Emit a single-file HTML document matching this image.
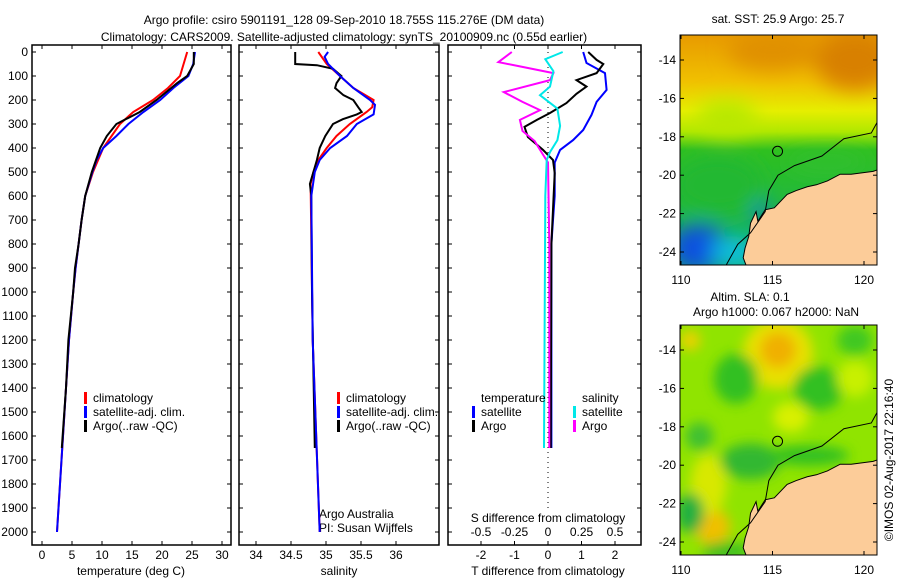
<!DOCTYPE html>
<html><head><meta charset="utf-8"><style>
body{margin:0;background:#fff;}
svg text{font-family:"Liberation Sans",sans-serif;font-size:12px;fill:#000;}
</style></head><body>
<svg id="c" width="900" height="580" viewBox="0 0 900 580" xmlns="http://www.w3.org/2000/svg">
<defs>
<filter id="bl" x="-50%" y="-50%" width="200%" height="200%"><feGaussianBlur stdDeviation="10"/></filter>
<filter id="bl2" x="-50%" y="-50%" width="200%" height="200%"><feGaussianBlur stdDeviation="6"/></filter>
<clipPath id="m1"><rect x="680" y="35" width="197" height="230"/></clipPath>
<clipPath id="m2"><rect x="680" y="325" width="197" height="230"/></clipPath>
<linearGradient id="sst" x1="0" y1="0" x2="0" y2="1">
<stop offset="0" stop-color="#e89a00"/><stop offset="0.2" stop-color="#f0c000"/><stop offset="0.33" stop-color="#e6ee00"/><stop offset="0.42" stop-color="#b0e800"/><stop offset="0.5" stop-color="#30c020"/><stop offset="1" stop-color="#10b060"/>
</linearGradient>
</defs>
<g>
<text x="344" y="24" text-anchor="middle" font-size="13">Argo profile: csiro 5901191_128 09-Sep-2010 18.755S 115.276E (DM data)</text>
<text x="344" y="41" text-anchor="middle" font-size="13">Climatology: CARS2009. Satellite-adjusted climatology: synTS_20100909.nc (0.55d earlier)</text>
</g>
<g id="plots"></g>
<g id="maps"></g>
<text x="893" y="460" text-anchor="middle" transform="rotate(-90 893 460)">©IMOS 02-Aug-2017 22:16:40</text>
</svg>
<script>
// ---- data ----
const depthTicks=[0,100,200,300,400,500,600,700,800,900,1000,1100,1200,1300,1400,1500,1600,1700,1800,1900,2000];
const tTicks=[0,5,10,15,20,25,30];
const sTicks=[34,34.5,35,35.5,36];
const dTTicks=[-2,-1,0,1,2];
const dSTicks=[-0.5,-0.25,0,0.25,0.5];
const dSTickLabels=["-0.5","-0.25","0","0.25","0.5"];

const tArgoDepth=[0,50,100,130,200,250,300,350,400,500,600,700,800,900,1000,1100,1200,1400,1650];
const tArgo=[25.3,25.3,24.2,22.5,19.1,16.3,12.4,10.8,9.7,8.3,7.2,6.6,6.1,5.5,5.2,4.8,4.4,4.0,3.3];
const tClimDepth=[0,100,150,200,250,300,350,400,500,600,700,800,900,1000,1200,1400,1600,1800,2000];
const tClim=[24.2,23.0,21.0,18.5,15.2,13.0,11.6,10.2,8.5,7.2,6.6,6.1,5.6,5.2,4.5,4.0,3.5,3.0,2.5];
const tSatDepth=[0,50,100,150,200,250,300,350,400,450,500,600,700,800,900,1000,1200,1400,1600,1800,2000];
const tSat=[25.5,25.2,24.4,21.9,19.7,16.9,14.4,12.4,10.2,9.1,8.4,7.2,6.6,6.1,5.6,5.2,4.5,4.0,3.5,3.0,2.5];

const sArgoDepth=[0,50,55,70,100,130,150,180,200,230,250,260,280,300,350,400,450,500,550,600,1000,1650];
const sArgo=[34.56,34.56,34.87,35.1,35.22,35.15,35.13,35.25,35.39,35.46,35.51,35.44,35.24,35.1,34.99,34.91,34.87,34.82,34.77,34.79,34.8,34.84];
const sClimDepth=[0,50,100,150,200,230,250,300,350,400,450,500,550,1200,2000];
const sClim=[34.89,35.01,35.2,35.39,35.68,35.66,35.58,35.34,35.15,35.01,34.89,34.82,34.78,34.81,34.91];
const sSatDepth=[0,20,50,100,150,200,220,260,300,350,400,450,500,600,1200,2000];
const sSat=[35.03,34.98,35.03,35.2,35.39,35.63,35.7,35.68,35.44,35.3,35.06,34.91,34.84,34.79,34.81,34.91];

const dTSatDepth=[0,46,88,158,208,262,325,367,408,461,600,700,800,1650];
const dTSat=[1.05,1.15,1.7,1.75,1.45,1.3,1.05,0.75,0.36,0.2,0.2,0.15,0.1,0.1];
const dTArgoDepth=[0,33,50,88,117,144,174,213,254,283,312,354,408,450,504,800,1650];
const dTArgo=[1.2,1.45,1.65,1.45,0.85,1.15,0.85,0.55,0.06,-0.33,-0.7,-0.6,-0.15,0.15,0.2,0.1,0.08];
const dSArgoDepth=[0,42,60,88,117,167,208,242,283,329,371,425,460,800,1650];
const dSArgo=[-0.27,-0.37,-0.21,0.04,0.015,-0.33,-0.19,-0.06,-0.21,-0.19,-0.1,-0.04,0,0.01,0.01];
const dSSatDepth=[0,30,80,144,180,236,308,367,417,450,600,1650];
const dSSat=[0.11,-0.02,0.04,0.015,-0.06,0.07,0.09,0.07,0.015,-0.01,-0.02,-0.03];

// ---- helpers ----
const NS="http://www.w3.org/2000/svg";
const plots=document.getElementById('plots');
function mk(tag,attrs,parent){const e=document.createElementNS(NS,tag);for(const k in attrs)e.setAttribute(k,attrs[k]);(parent||plots).appendChild(e);return e;}
const Y0=52, YPX=0.24, TOP=45, BOT=545;
const yDepth=d=>Y0+d*YPX;
const xT=t=>42+t*6;
const xS=s=>256+(s-34)*70;
const xDT=v=>548+v*33.5;
const xDS=v=>548+v*134;

const panels=[{x0:32,x1:231,name:'temperature-panel'},{x0:239,x1:439,name:'salinity-panel'},{x0:448,x1:641,name:'difference-panel'}];
panels.forEach(p=>{
  const r=mk('rect',{x:p.x0,y:TOP,width:p.x1-p.x0,height:BOT-TOP,fill:'none',stroke:'#000','stroke-width':1.5});
  
  
  depthTicks.forEach(d=>{
    const y=yDepth(d);
    mk('line',{x1:p.x0,x2:p.x0+4,y1:y,y2:y,stroke:'#000'});
    mk('line',{x1:p.x1-4,x2:p.x1,y1:y,y2:y,stroke:'#000'});
  });
});
depthTicks.forEach(d=>{
  const t=mk('text',{x:28,y:yDepth(d)+4,'text-anchor':'end'});
  t.textContent=d;
  
  
});
function xTicks(vals,labels,fx,labY,name){
  vals.forEach((v,i)=>{
    const x=fx(v);
    mk('line',{x1:x,x2:x,y1:BOT,y2:BOT-4,stroke:'#000'});
    mk('line',{x1:x,x2:x,y1:TOP,y2:TOP+4,stroke:'#000'});
    const t=mk('text',{x:x,y:labY,'text-anchor':'middle'});
    t.textContent=labels[i];
    
    
  });
}
xTicks(tTicks,tTicks,xT,559,'temperature-tick-label');
xTicks(sTicks,sTicks,xS,559,'salinity-tick-label');
xTicks(dTTicks,dTTicks,xDT,559,'t-diff-tick-label');
dSTicks.forEach((v,i)=>{
  const t=mk('text',{x:xDS(v),y:536,'text-anchor':'middle'});
  t.textContent=dSTickLabels[i];
  
  
});
function label(txt,x,y,name,anchor){const t=mk('text',{x:x,y:y,'text-anchor':anchor||'middle'});t.textContent=txt;return t;}
label('temperature (deg C)',131,575,'temperature-axis-title');
label('salinity',339,575,'salinity-axis-title');
label('T difference from climatology',548,575,'t-diff-axis-title');
label('S difference from climatology',548,522,'s-diff-axis-title');
label('Argo Australia',319,518,'credit-argo-australia','start');
label('PI: Susan Wijffels',319,532,'credit-pi','start');

for(let y=yDepth(0);y<yDepth(1900);y+=5){mk('rect',{x:547.5,y:y,width:1,height:1,fill:'#000'});}

function series(depths,vals,fx,color,name){
  const pts=depths.map((d,i)=>fx(vals[i]).toFixed(1)+','+yDepth(d).toFixed(1)).join(' ');
  const l=mk('polyline',{points:pts,fill:'none',stroke:color,'stroke-width':2});
  
  
}
series(tClimDepth,tClim,xT,'#ff0000','temperature-climatology-line');
series(tSatDepth,tSat,xT,'#0000ff','temperature-satellite-line');
series(tArgoDepth,tArgo,xT,'#000000','temperature-argo-line');
series(sClimDepth,sClim,xS,'#ff0000','salinity-climatology-line');
series(sArgoDepth,sArgo,xS,'#000000','salinity-argo-line');
series(sSatDepth,sSat,xS,'#0000ff','salinity-satellite-line');
series(dTSatDepth,dTSat,xDT,'#0000ff','t-diff-satellite-line');
series(dTArgoDepth,dTArgo,xDT,'#000000','t-diff-argo-line');
series(dSArgoDepth,dSArgo,xDS,'#ff00ff','s-diff-argo-line');
series(dSSatDepth,dSSat,xDS,'#00e8e8','s-diff-satellite-line');

function legendEntry(x,y,color,txt,name){
  mk('rect',{x:x,y:y-10,width:3,height:12,fill:color});
  label(txt,x+9,y,name,'start');
}
legendEntry(84,402,'#ff0000','climatology','legend-climatology');
legendEntry(84,416,'#0000ff','satellite-adj. clim.','legend-satellite');
legendEntry(84,430,'#000000','Argo(..raw -QC)','legend-argo');
legendEntry(337,402,'#ff0000','climatology','legend-climatology-s');
legendEntry(337,416,'#0000ff','satellite-adj. clim.','legend-satellite-s');
legendEntry(337,430,'#000000','Argo(..raw -QC)','legend-argo-s');
label('temperature',481,402,'legend-temperature-heading','start');
legendEntry(472,416,'#0000ff','satellite','legend-t-satellite');
legendEntry(472,430,'#000000','Argo','legend-t-argo');
label('salinity',582,402,'legend-salinity-heading','start');
legendEntry(573,416,'#00e8e8','satellite','legend-s-satellite');
legendEntry(573,430,'#ff00ff','Argo','legend-s-argo');

// ---- maps ----
const maps=document.getElementById('maps');
function mm(tag,attrs,parent){const e=document.createElementNS(NS,tag);for(const k in attrs)e.setAttribute(k,attrs[k]);(parent||maps).appendChild(e);return e;}
const lonTicks=[110,115,120];
const latTicks=[-14,-16,-18,-20,-22,-24];
const coast=[[120.8,-19.7],[120.5,-19.8],[119.3,-19.95],[118.7,-19.95],[118,-20.3],[117.4,-20.5],[116.9,-20.6],[116.3,-20.8],[115.8,-21.0],[115.4,-21.4],[115.1,-21.7],[114.6,-21.8],[114.2,-22.4],[114.1,-21.9],[113.8,-22.5],[113.7,-23.2],[113.5,-23.8],[113.4,-24.3],[113.6,-24.8],[113.6,-25.5],[120.8,-25.5]];
const shelf=[[120.8,-17.1],[120.4,-17.8],[118.9,-18.1],[117.7,-19.0],[116.2,-19.5],[115.3,-20.0],[114.8,-20.8],[114.6,-21.9],[113.8,-23.0],[113.1,-23.6],[112.4,-24.8]];
const argoPos=[115.276,-18.755];
function drawMap(oy,kind,title1,title2){
  const lx=v=>681+(v-110)*18.3, ly=v=>oy+25+(-14-v)*19.2;
  const g=mm('g',{'clip-path':'url(#'+(kind==='sst'?'m1':'m2')+')'});
  
  
  if(kind==='sst'){
    mm('rect',{x:680,y:oy,width:197,height:230,fill:'url(#sst)'},g);
    const f=mm('g',{filter:'url(#bl)'},g);
    mm('ellipse',{cx:lx(119.5),cy:ly(-14),rx:40,ry:30,fill:'#d88000'},f);
    mm('ellipse',{cx:lx(115),cy:ly(-13.5),rx:45,ry:20,fill:'#e09000'},f);
    mm('ellipse',{cx:lx(112.5),cy:ly(-17),rx:30,ry:18,fill:'#b8e800'},f);
    mm('ellipse',{cx:lx(112),cy:ly(-20.5),rx:45,ry:30,fill:'#20b830'},f);
    mm('ellipse',{cx:lx(111),cy:ly(-23.8),rx:30,ry:24,fill:'#1050e0'},f);
    mm('ellipse',{cx:lx(113),cy:ly(-24),rx:25,ry:15,fill:'#10c0e0'},f);
    mm('ellipse',{cx:lx(114.4),cy:ly(-22),rx:6,ry:12,fill:'#1060f0'},f);
    mm('ellipse',{cx:lx(118),cy:ly(-19.3),rx:40,ry:8,fill:'#30c030'},f);
  } else {
    mm('rect',{x:680,y:oy,width:197,height:230,fill:'#90e400'},g);
    const f=mm('g',{filter:'url(#bl2)'},g);
    const blobs=[[115.3,-14.2,35,35,'#e8e000'],[115.3,-14,18,18,'#f0b000'],[111.7,-23.2,18,18,'#f0c000'],[111.5,-21,18,30,'#d8e800'],[113,-15.5,22,25,'#30c020'],[117.5,-16,25,22,'#30c020'],[119.5,-13.5,18,15,'#40c820'],[116,-17.5,18,15,'#d8f000'],[119.5,-15.5,18,18,'#c8f000'],[111,-18.5,14,14,'#40c030'],[110.5,-22.5,14,20,'#20b040'],[113.8,-19.8,30,18,'#30b830'],[117,-19.5,40,10,'#30c020'],[112.5,-24.5,25,10,'#40c020'],[110.5,-13.5,10,10,'#f0d000']];
    blobs.forEach(b=>mm('ellipse',{cx:lx(b[0]),cy:ly(b[1]),rx:b[2],ry:b[3],fill:b[4]},f));
  }
  const land=mm('polygon',{points:coast.map(p=>lx(p[0])+','+ly(p[1])).join(' '),fill:'#fccc99',stroke:'#000','stroke-width':1},g);
  
  
  mm('polyline',{points:shelf.map(p=>lx(p[0])+','+ly(p[1])).join(' '),fill:'none',stroke:'#000','stroke-width':1},g);
  const c=mm('circle',{cx:lx(argoPos[0]),cy:ly(argoPos[1]),r:5,fill:'none',stroke:'#000','stroke-width':1},g);
  
  
  mm('rect',{x:680,y:oy,width:197,height:230,fill:'none',stroke:'#000','stroke-width':1});
  lonTicks.forEach(v=>{
    mm('line',{x1:lx(v),x2:lx(v),y1:oy,y2:oy+4,stroke:'#000'});
    mm('line',{x1:lx(v),x2:lx(v),y1:oy+230,y2:oy+226,stroke:'#000'});
    const t=mm('text',{x:lx(v),y:oy+249,'text-anchor':'middle'});t.textContent=v;
    
    
  });
  latTicks.forEach(v=>{
    mm('line',{x1:680,x2:684,y1:ly(v),y2:ly(v),stroke:'#000'});
    mm('line',{x1:873,x2:877,y1:ly(v),y2:ly(v),stroke:'#000'});
    const t=mm('text',{x:676,y:ly(v)+4,'text-anchor':'end'});t.textContent=v;
    
    
  });
  const t1=mm('text',{x:title2?750:778,y:title2?oy-24:oy-12,'text-anchor':'middle'});t1.textContent=title1;
  
  
  if(title2){const t2=mm('text',{x:776,y:oy-9,'text-anchor':'middle'});t2.textContent=title2;
    
    }
}
drawMap(35,'sst','sat. SST: 25.9 Argo: 25.7');
drawMap(325,'sla','Altim. SLA: 0.1','Argo h1000: 0.067 h2000: NaN');
</script>
</body></html>
